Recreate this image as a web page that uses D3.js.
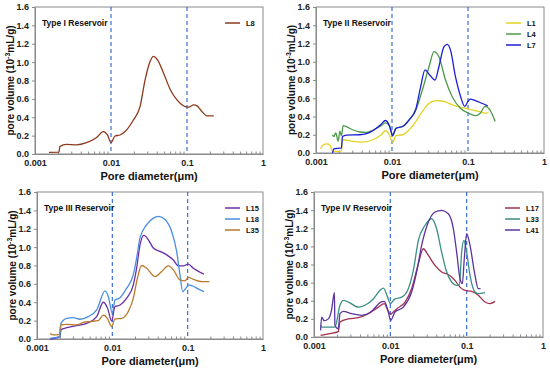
<!DOCTYPE html>
<html>
<head>
<meta charset="utf-8">
<script src="https://cdn.jsdelivr.net/npm/d3@7"></script>
<style>
  body { margin: 0; background: #fff; }
  svg text { font-family: "Liberation Sans", Arial, sans-serif; font-weight: bold; }
</style>
</head>
<body>
<div id="chart"></div>
<script>
// [pore diameter (µm), pore volume (10^-3 mL/g)]
const L8 = [[0.00153,0.018],[0.00207,0.02],[0.00212,0.08],[0.00259,0.105],[0.00352,0.10],[0.00477,0.124],
  [0.00647,0.18],[0.00793,0.244],[0.00895,0.21],[0.0100,0.124],[0.0113,0.196],[0.01315,0.207],[0.0153,0.244],
  [0.0197,0.37],[0.0241,0.516],[0.0281,0.807],[0.0321,0.99],[0.0362,1.062],[0.0409,1.025],[0.0492,0.88],
  [0.0603,0.70],[0.0738,0.59],[0.0951,0.516],[0.105,0.51],[0.1225,0.535],[0.1355,0.524],[0.158,0.46],
  [0.184,0.415],[0.225,0.415]];

const L1 = [[0.00115,0.044],[0.00125,0.09],[0.00138,0.10],[0.00152,0.087],[0.00165,0.018],[0.00216,0.02],
  [0.00223,0.13],[0.00228,0.145],[0.00307,0.127],[0.00414,0.12],[0.0056,0.145],[0.0072,0.2],[0.00818,0.244],
  [0.00923,0.2],[0.0102,0.116],[0.01128,0.19],[0.01377,0.2],[0.01683,0.255],[0.02056,0.345],[0.0251,0.455],
  [0.0307,0.545],[0.0375,0.575],[0.0458,0.57],[0.056,0.545],[0.0719,0.51],[0.0923,0.49],[0.1127,0.473],
  [0.138,0.455],[0.168,0.436],[0.186,0.44]];

const L4 = [[0.00165,0.2],[0.00172,0.18],[0.00182,0.22],[0.00196,0.13],[0.00206,0.24],[0.00216,0.19],
  [0.00228,0.3],[0.00251,0.29],[0.00292,0.26],[0.00375,0.23],[0.00458,0.225],[0.00589,0.26],[0.0072,0.3],
  [0.00818,0.33],[0.00923,0.3],[0.0102,0.2],[0.01128,0.27],[0.01377,0.29],[0.01683,0.364],[0.02056,0.47],
  [0.0251,0.69],[0.0307,0.945],[0.0357,1.11],[0.0414,1.055],[0.0506,0.8],[0.0618,0.62],[0.0795,0.49],
  [0.102,0.436],[0.1247,0.41],[0.145,0.436],[0.168,0.51],[0.195,0.47],[0.228,0.345]];

const L7 = [[0.00165,0.0],[0.00172,0.045],[0.00216,0.055],[0.00223,0.18],[0.00251,0.196],[0.00375,0.2],
  [0.0056,0.244],[0.0072,0.316],[0.00818,0.356],[0.00923,0.3],[0.0102,0.19],[0.01128,0.27],[0.01377,0.29],
  [0.01683,0.364],[0.02056,0.48],[0.02388,0.73],[0.0272,0.91],[0.0313,0.855],[0.0367,0.8],[0.0414,0.945],
  [0.0482,1.164],[0.0532,1.19],[0.0589,1.127],[0.0684,0.836],[0.0795,0.625],[0.0906,0.51],[0.1,0.565],
  [0.107,0.59],[0.1247,0.575],[0.152,0.545],[0.182,0.516]];

const L15 = [[0.00149,0.0],[0.00202,0.025],[0.00208,0.1],[0.00248,0.124],[0.00336,0.145],[0.00456,0.17],
  [0.0062,0.244],[0.0076,0.4],[0.0086,0.34],[0.0098,0.196],[0.01084,0.353],[0.01264,0.37],[0.0155,0.444],
  [0.019,0.59],[0.021,0.77],[0.0233,1.025],[0.0263,1.127],[0.0301,1.08],[0.035,0.99],[0.043,0.953],
  [0.0526,0.916],[0.0646,0.86],[0.0752,0.796],[0.0875,0.796],[0.102,0.815],[0.119,0.77],[0.146,0.727],
  [0.165,0.705]];

const L18 = [[0.00149,0.007],[0.00202,0.025],[0.00208,0.17],[0.00248,0.225],[0.00303,0.233],[0.00372,0.215],
  [0.0048,0.244],[0.0062,0.316],[0.008,0.524],[0.00886,0.46],[0.01,0.28],[0.01084,0.425],[0.01264,0.45],
  [0.0155,0.553],[0.019,0.7],[0.021,0.88],[0.0233,1.1],[0.0286,1.244],[0.035,1.316],[0.0408,1.335],
  [0.05,1.3],[0.0613,1.17],[0.0714,0.953],[0.079,0.7],[0.0859,0.516],[0.095,0.553],[0.102,0.59],
  [0.113,0.58],[0.146,0.535],[0.165,0.516]];

const L35 = [[0.00149,0.058],[0.00165,0.044],[0.00198,0.05],[0.00206,0.153],[0.00248,0.16],[0.00336,0.153],
  [0.00412,0.18],[0.00505,0.19],[0.00652,0.2],[0.0076,0.26],[0.0086,0.225],[0.0098,0.135],[0.01084,0.218],
  [0.0133,0.225],[0.0163,0.3],[0.019,0.444],[0.0215,0.66],[0.0245,0.8],[0.0286,0.77],[0.0368,0.68],
  [0.0452,0.735],[0.0553,0.796],[0.0646,0.753],[0.079,0.643],[0.0922,0.633],[0.102,0.67],[0.119,0.65],
  [0.153,0.625],[0.194,0.625]];

const L17 = [[0.00122,0.018],[0.00162,0.037],[0.00208,0.06],[0.00219,0.165],[0.00282,0.2],[0.00381,0.213],
  [0.00515,0.257],[0.00697,0.33],[0.00834,0.368],[0.00922,0.3],[0.0101,0.25],[0.0106,0.265],[0.0121,0.31],
  [0.0156,0.386],[0.019,0.533],[0.0233,0.81],[0.027,0.974],[0.0315,0.9],[0.0385,0.79],[0.047,0.717],
  [0.0575,0.69],[0.0703,0.625],[0.0818,0.55],[0.095,0.515],[0.1164,0.504],[0.142,0.46],[0.174,0.386],
  [0.202,0.368],[0.235,0.393]];

const L33 = [[0.00122,0.129],[0.00126,0.11],[0.00139,0.11],[0.00188,0.11],[0.00219,0.35],[0.00242,0.404],
  [0.00282,0.386],[0.00381,0.33],[0.00465,0.35],[0.00599,0.42],[0.00733,0.515],[0.0081,0.54],[0.00922,0.44],
  [0.01,0.368],[0.0115,0.42],[0.0141,0.44],[0.0172,0.533],[0.02,0.735],[0.0233,1.066],[0.0284,1.23],
  [0.0348,1.305],[0.0404,1.195],[0.047,0.937],[0.0547,0.717],[0.0636,0.607],[0.0739,0.57],[0.0802,0.57],
  [0.086,0.937],[0.0922,1.066],[0.1,0.937],[0.1106,0.68],[0.1286,0.496],[0.142,0.478],[0.174,0.489]];

const L41 = [[0.00122,0.073],[0.00126,0.22],[0.00136,0.18],[0.00154,0.2],[0.0017,0.3],[0.00185,0.489],
  [0.00188,0.13],[0.00208,0.09],[0.00219,0.257],[0.00242,0.283],[0.00311,0.257],[0.00421,0.239],
  [0.00569,0.283],[0.00733,0.379],[0.00834,0.393],[0.00941,0.276],[0.0101,0.184],[0.0115,0.276],
  [0.0148,0.33],[0.019,0.496],[0.0221,0.717],[0.0257,1.01],[0.0315,1.268],[0.0385,1.379],[0.047,1.397],
  [0.0575,1.36],[0.0669,1.195],[0.0739,0.937],[0.0818,0.643],[0.0877,0.588],[0.0931,0.864],[0.1,1.14],
  [0.1106,1.01],[0.1286,0.68],[0.142,0.533],[0.152,0.533]];

const xTicks = [0.001, 0.01, 0.1, 1];
const xTickLabels = ["0.001", "0.01", "0.1", "1"];
const yTicks = [0, 0.2, 0.4, 0.6, 0.8, 1.0, 1.2, 1.4, 1.6];
const markers = [0.01, 0.1];

const panels = [
  { title: "Type I Reservoir", left: 35, top: 7, w: 228, h: 147,
    series: [{ name: "L8", data: L8, color: "#8b3a1c" }] },
  { title: "Type II Reservoir", left: 316, top: 7, w: 228, h: 146,
    series: [{ name: "L1", data: L1, color: "#e3d320" },
             { name: "L4", data: L4, color: "#4c9a48" },
             { name: "L7", data: L7, color: "#1c1cd8" }] },
  { title: "Type III Reservoir", left: 37, top: 192, w: 226, h: 147,
    series: [{ name: "L15", data: L15, color: "#6a2ea6" },
             { name: "L18", data: L18, color: "#4a8ee0" },
             { name: "L35", data: L35, color: "#b87a2c" }] },
  { title: "Type IV Reservoir", left: 314, top: 192, w: 229, h: 145,
    series: [{ name: "L17", data: L17, color: "#a0304e" },
             { name: "L33", data: L33, color: "#3a8e86" },
             { name: "L41", data: L41, color: "#5a34a0" }] }
];

const svg = d3.select("#chart").append("svg")
  .attr("width", 550).attr("height", 371);

panels.forEach(p => {
  const g = svg.append("g").attr("transform", `translate(${p.left},${p.top})`);

  const x = d3.scaleLog().domain([0.001, 1]).range([0, p.w]);
  const y = d3.scaleLinear().domain([0, 1.6]).range([p.h, 0]);

  // frame
  g.append("rect").attr("width", p.w).attr("height", p.h)
    .attr("fill", "none").attr("stroke", "#8a8a8a").attr("stroke-width", 1);

  // y axis
  const yAxis = g.append("g")
    .call(d3.axisLeft(y).tickValues(yTicks).tickFormat(d3.format(".1f")).tickSize(3));
  yAxis.select(".domain").attr("stroke", "#8a8a8a");
  yAxis.selectAll(".tick line").attr("stroke", "#8a8a8a");
  yAxis.selectAll("text").attr("font-size", 9).attr("fill", "#222");

  // x axis, minor ticks inward
  const minor = [];
  for (let e = -3; e < 0; e++) for (let k = 2; k <= 9; k++) minor.push(k * Math.pow(10, e));
  const xMinor = g.append("g").attr("transform", `translate(0,${p.h})`)
    .call(d3.axisTop(x).tickValues(minor).tickFormat("").tickSize(2.5));
  xMinor.select(".domain").remove();
  xMinor.selectAll(".tick line").attr("stroke", "#8a8a8a");

  const xAxis = g.append("g").attr("transform", `translate(0,${p.h})`)
    .call(d3.axisBottom(x).tickValues(xTicks).tickFormat((d, i) => xTickLabels[i]).tickSize(0).tickPadding(6));
  xAxis.select(".domain").attr("stroke", "#8a8a8a");
  xAxis.selectAll("text").attr("font-size", 9).attr("fill", "#222");

  // dashed markers
  g.selectAll(".marker").data(markers).enter().append("line")
    .attr("x1", d => x(d)).attr("x2", d => x(d))
    .attr("y1", 0).attr("y2", p.h)
    .attr("stroke", "#3a6ed8").attr("stroke-width", 1.2)
    .attr("stroke-dasharray", "4,3");

  // curves
  const line = d3.line()
    .x(d => x(d[0])).y(d => y(d[1]))
    .curve(d3.curveMonotoneX);
  p.series.forEach(s => {
    g.append("path").datum(s.data)
      .attr("d", line)
      .attr("fill", "none")
      .attr("stroke", s.color)
      .attr("stroke-width", 1.3);
  });

  // title
  g.append("text").attr("x", 7).attr("y", 19)
    .attr("font-size", 8.5).attr("fill", "#111").text(p.title);

  // legend
  const lg = g.append("g").attr("transform", `translate(${p.w - 38},16)`);
  p.series.forEach((s, i) => {
    const yy = i * 11;
    lg.append("line").attr("x1", 0).attr("x2", 15).attr("y1", yy).attr("y2", yy)
      .attr("stroke", s.color).attr("stroke-width", 1.5);
    lg.append("text").attr("x", 21).attr("y", yy + 3)
      .attr("font-size", 7.5).attr("fill", "#111").text(s.name);
  });

  // axis titles
  g.append("text")
    .attr("x", p.w / 2).attr("y", p.h + 26)
    .attr("text-anchor", "middle").attr("font-size", 11).attr("fill", "#111")
    .text("Pore diameter(μm)");

  const yt = g.append("text")
    .attr("transform", `translate(-21,${p.h / 2}) rotate(-90)`)
    .attr("text-anchor", "middle").attr("font-size", 10).attr("fill", "#111");
  yt.append("tspan").text("pore volume (10");
  yt.append("tspan").attr("font-size", 7).attr("dy", -4).text("-3");
  yt.append("tspan").attr("dy", 4).text("mL/g)");
});
</script>
</body>
</html>
